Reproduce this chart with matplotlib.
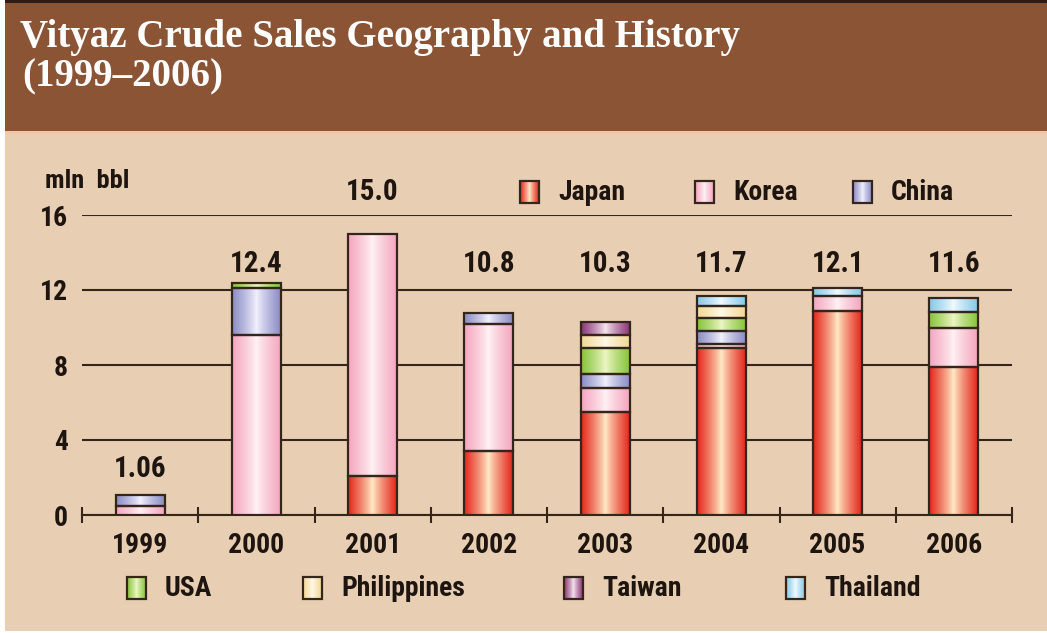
import numpy as np
import matplotlib.pyplot as plt
from matplotlib.colors import to_rgb
from matplotlib.patches import Rectangle

# data (mln bbl)
years = ['1999', '2000', '2001', '2002', '2003', '2004', '2005', '2006']
total_labels = ['1.06', '12.4', '15.0', '10.8', '10.3', '11.7', '12.1', '11.6']

japan = [0.0, 0.0, 2.1, 3.4, 5.5, 8.9, 10.9, 7.9]
korea = [0.5, 9.6, 12.9, 6.8, 1.3, 0.2, 0.8, 2.05]
china = [0.56, 2.5, 0.0, 0.6, 0.7, 0.7, 0.0, 0.0]
usa = [0.0, 0.3, 0.0, 0.0, 1.4, 0.7, 0.0, 0.9]
philippines = [0.0, 0.0, 0.0, 0.0, 0.7, 0.65, 0.0, 0.0]
taiwan = [0.0, 0.0, 0.0, 0.0, 0.7, 0.0, 0.0, 0.0]
thailand = [0.0, 0.0, 0.0, 0.0, 0.0, 0.55, 0.4, 0.75]

series = [
    ('Japan', japan, '#e4261b', '#ffecc8'),
    ('Korea', korea, '#f4a6bf', '#fff2f5'),
    ('China', china, '#8a8cc4', '#f3f2ff'),
    ('USA', usa, '#86c43a', '#eef7c6'),
    ('Philippines', philippines, '#f3d896', '#fff9e8'),
    ('Taiwan', taiwan, '#8a3676', '#f6e6f0'),
    ('Thailand', thailand, '#86c8e8', '#f2fbff'),
]

W, H = 1047, 633
BG = '#e8cfb3'
DARK = '#35261c'
INK = '#1e1510'
plt.rcParams['font.family'] = ['Roboto Condensed', 'Liberation Sans Narrow', 'Roboto', 'DejaVu Sans']


def shade(ax, x0, y0, w, h, edge, centre, z):
    # horizontal shading: dark at the sides, light in the middle
    t = np.abs(np.linspace(-1, 1, 90)) ** 0.85
    e = np.array(to_rgb(edge))
    c = np.array(to_rgb(centre))
    row = c[None, :] * (1 - t[:, None]) + e[None, :] * t[:, None]
    ax.imshow(row[None, :, :], extent=(x0, x0 + w, y0, y0 + h),
              aspect='auto', zorder=z, interpolation='bilinear')


fig = plt.figure(figsize=(W / 100, H / 100), dpi=100, facecolor=BG)

# background / header in pixel coordinates
bg = fig.add_axes([0, 0, 1, 1])
bg.set_xlim(0, W)
bg.set_ylim(H, 0)
bg.axis('off')
bg.set_zorder(0)
bg.add_patch(Rectangle((0, 0), 5, H, color='white', lw=0))
bg.add_patch(Rectangle((0, H - 2), W, 2, color='white', lw=0))
bg.add_patch(Rectangle((5, 0), W - 5, 131, color='#8b5535', lw=0))
bg.add_patch(Rectangle((5, 0), W - 5, 3, color='#2a1d15', lw=0))
bg.add_patch(Rectangle((5, 131), W - 5, 3, color='#f2c6a6', lw=0))
bg.text(20, 38, 'Vityaz Crude Sales Geography and History', color='white',
        family='Liberation Serif', weight='bold', fontsize=28, va='center')
bg.text(22, 77, '(1999–2006)', color='white',
        family='Liberation Serif', weight='bold', fontsize=28, va='center')
bg.text(45, 181, 'mln  bbl', fontsize=19, weight='bold', color=INK, va='center')

# legend, laid out by hand like the original
legend_pos = [(520, 192), (695, 192), (853, 192),
              (127, 588), (303, 588), (564, 588), (786, 588)]
for (name, vals, edge, centre), (lx, ly) in zip(series, legend_pos):
    shade(bg, lx, ly + 11, 19, -22, edge, centre, 2)
    bg.add_patch(Rectangle((lx, ly - 11), 19, 22, fill=False, ec=DARK, lw=1.6, zorder=3))
    bg.text(lx + 38, ly, name, fontsize=20, weight='bold', color=INK, va='center')
bg.set_xlim(0, W)
bg.set_ylim(H, 0)

# main chart
ax = fig.add_axes([82 / W, 118 / H, 930 / W, 300 / H], facecolor='none')
ax.set_zorder(1)
x = np.arange(len(years))
bw = 0.42
bottom = np.zeros(len(years))
for name, vals, edge, centre in series:
    vals = np.array(vals)
    bars = ax.bar(x, vals, bw, bottom=bottom, facecolor='none',
                  edgecolor=DARK, linewidth=1.6, zorder=4)
    for b, v in zip(bars, vals):
        if v <= 0:
            b.set_visible(False)
            continue
        shade(ax, b.get_x(), b.get_y(), b.get_width(), b.get_height(), edge, centre, 3)
    bottom += vals

for xi, tot, lab in zip(x, bottom, total_labels):
    if tot < 5:
        ly = tot + 1.4
    elif tot > 14:
        ly = tot + 2.2
    else:
        ly = 13.4
    ax.text(xi, ly, lab, ha='center', va='center', fontsize=21,
            weight='bold', color=INK, clip_on=False)

ax.set_xlim(-0.5, 7.5)
ax.set_ylim(0, 16)
ax.set_yticks([0, 4, 8, 12, 16])
ax.set_yticklabels(['0', '4', '8', '12', '16'])
ax.grid(axis='y', color=DARK, linewidth=1.5, zorder=1)
ax.set_axisbelow(True)
ax.set_xticks(x)
ax.set_xticklabels(years)
ax.set_xticks(np.arange(-0.5, 8, 1), minor=True)
ax.tick_params(axis='x', which='major', length=0, pad=12, labelsize=20, labelcolor=INK)
ax.tick_params(axis='x', which='minor', length=11, width=1.5, direction='inout', color=DARK)
ax.tick_params(axis='y', length=0, pad=10, labelsize=20, labelcolor=INK)
for lbl in ax.get_xticklabels() + ax.get_yticklabels():
    lbl.set_fontweight('bold')
for s in ['left', 'right', 'top']:
    ax.spines[s].set_visible(False)
ax.spines['bottom'].set_color(DARK)
ax.spines['bottom'].set_linewidth(1.5)

fig.savefig('out.png', dpi=100, facecolor=BG)
